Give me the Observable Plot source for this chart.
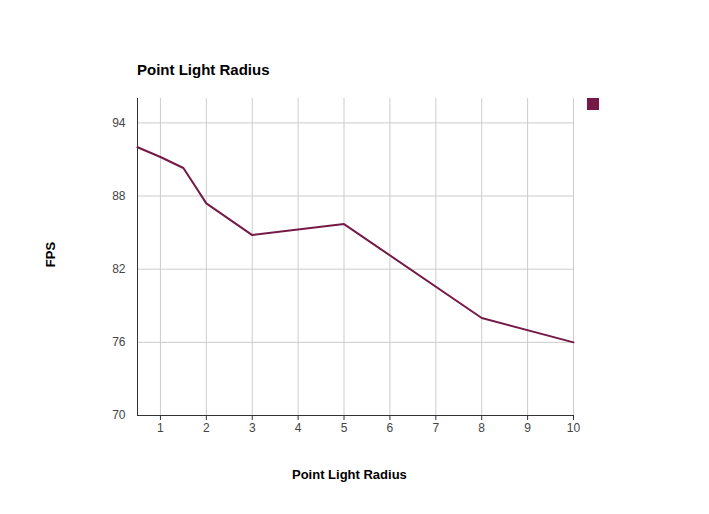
<!DOCTYPE html>
<html><head><meta charset="utf-8">
<script src="https://cdn.jsdelivr.net/npm/d3@7"></script>
<script src="https://cdn.jsdelivr.net/npm/@observablehq/plot@0.6"></script>
<style>
body{margin:0;font-family:Arial,"Liberation Sans",sans-serif;}
#wrap{position:relative;width:709px;height:514px;background:#fff;}
.t{position:absolute;font-weight:bold;color:#000;}
</style></head><body>
<div id="wrap">
  <div class="t" style="left:137px;top:61px;font-size:15px">Point Light Radius</div>
  <div class="t" style="left:292px;top:467px;font-size:13px">Point Light Radius</div>
  <div class="t" style="left:38px;top:247px;font-size:13px;transform:rotate(-90deg)">FPS</div>
  <div style="position:absolute;left:587px;top:98px;width:12px;height:12px;background:#751a47"></div>
  <div id="chart"></div>
</div>
<script>
const radius = [0.5, 1, 1.5, 2, 3, 5, 8, 10]
const fps = [92.0, 91.2, 90.3, 87.4, 84.8, 85.7, 78.0, 76.0]
const xTicks = [1, 2, 3, 4, 5, 6, 7, 8, 9, 10]
const yTicks = [70, 76, 82, 88, 94]

const data = radius.map((r, i) => ({r, fps: fps[i]}))

let chart = Plot.plot({
  width: 709,
  height: 514,
  marginLeft: 137,
  marginRight: 136,
  marginTop: 98,
  marginBottom: 99,
  x: {domain: [0.5, 10], label: null},
  y: {domain: [70, 96], label: null},
  style: {fontFamily: 'Arial, "Liberation Sans", sans-serif', fontSize: 12, color: '#444', background: 'transparent'},
  marks: [
    Plot.gridX(xTicks, {stroke: '#ccc', strokeOpacity: 1}),
    Plot.gridY(yTicks.slice(1), {stroke: '#ccc', strokeOpacity: 1}),
    Plot.axisX(xTicks, {tickSize: 5, tickPadding: 3, stroke: '#333', label: null, fill: '#444'}),
    Plot.axisY(yTicks, {tickSize: 0, tickPadding: 12, label: null, fill: '#444'}),
    Plot.ruleX([0.5], {stroke: '#333'}),
    Plot.ruleY([70], {stroke: '#333'}),
    Plot.line(data, {x: 'r', y: 'fps', stroke: '#751a47', strokeWidth: 2})
  ]
})
chart.style.position = 'absolute'
chart.style.left = '0'
chart.style.top = '0'
d3.select('#chart').append(() => chart)
</script>
</body></html>
